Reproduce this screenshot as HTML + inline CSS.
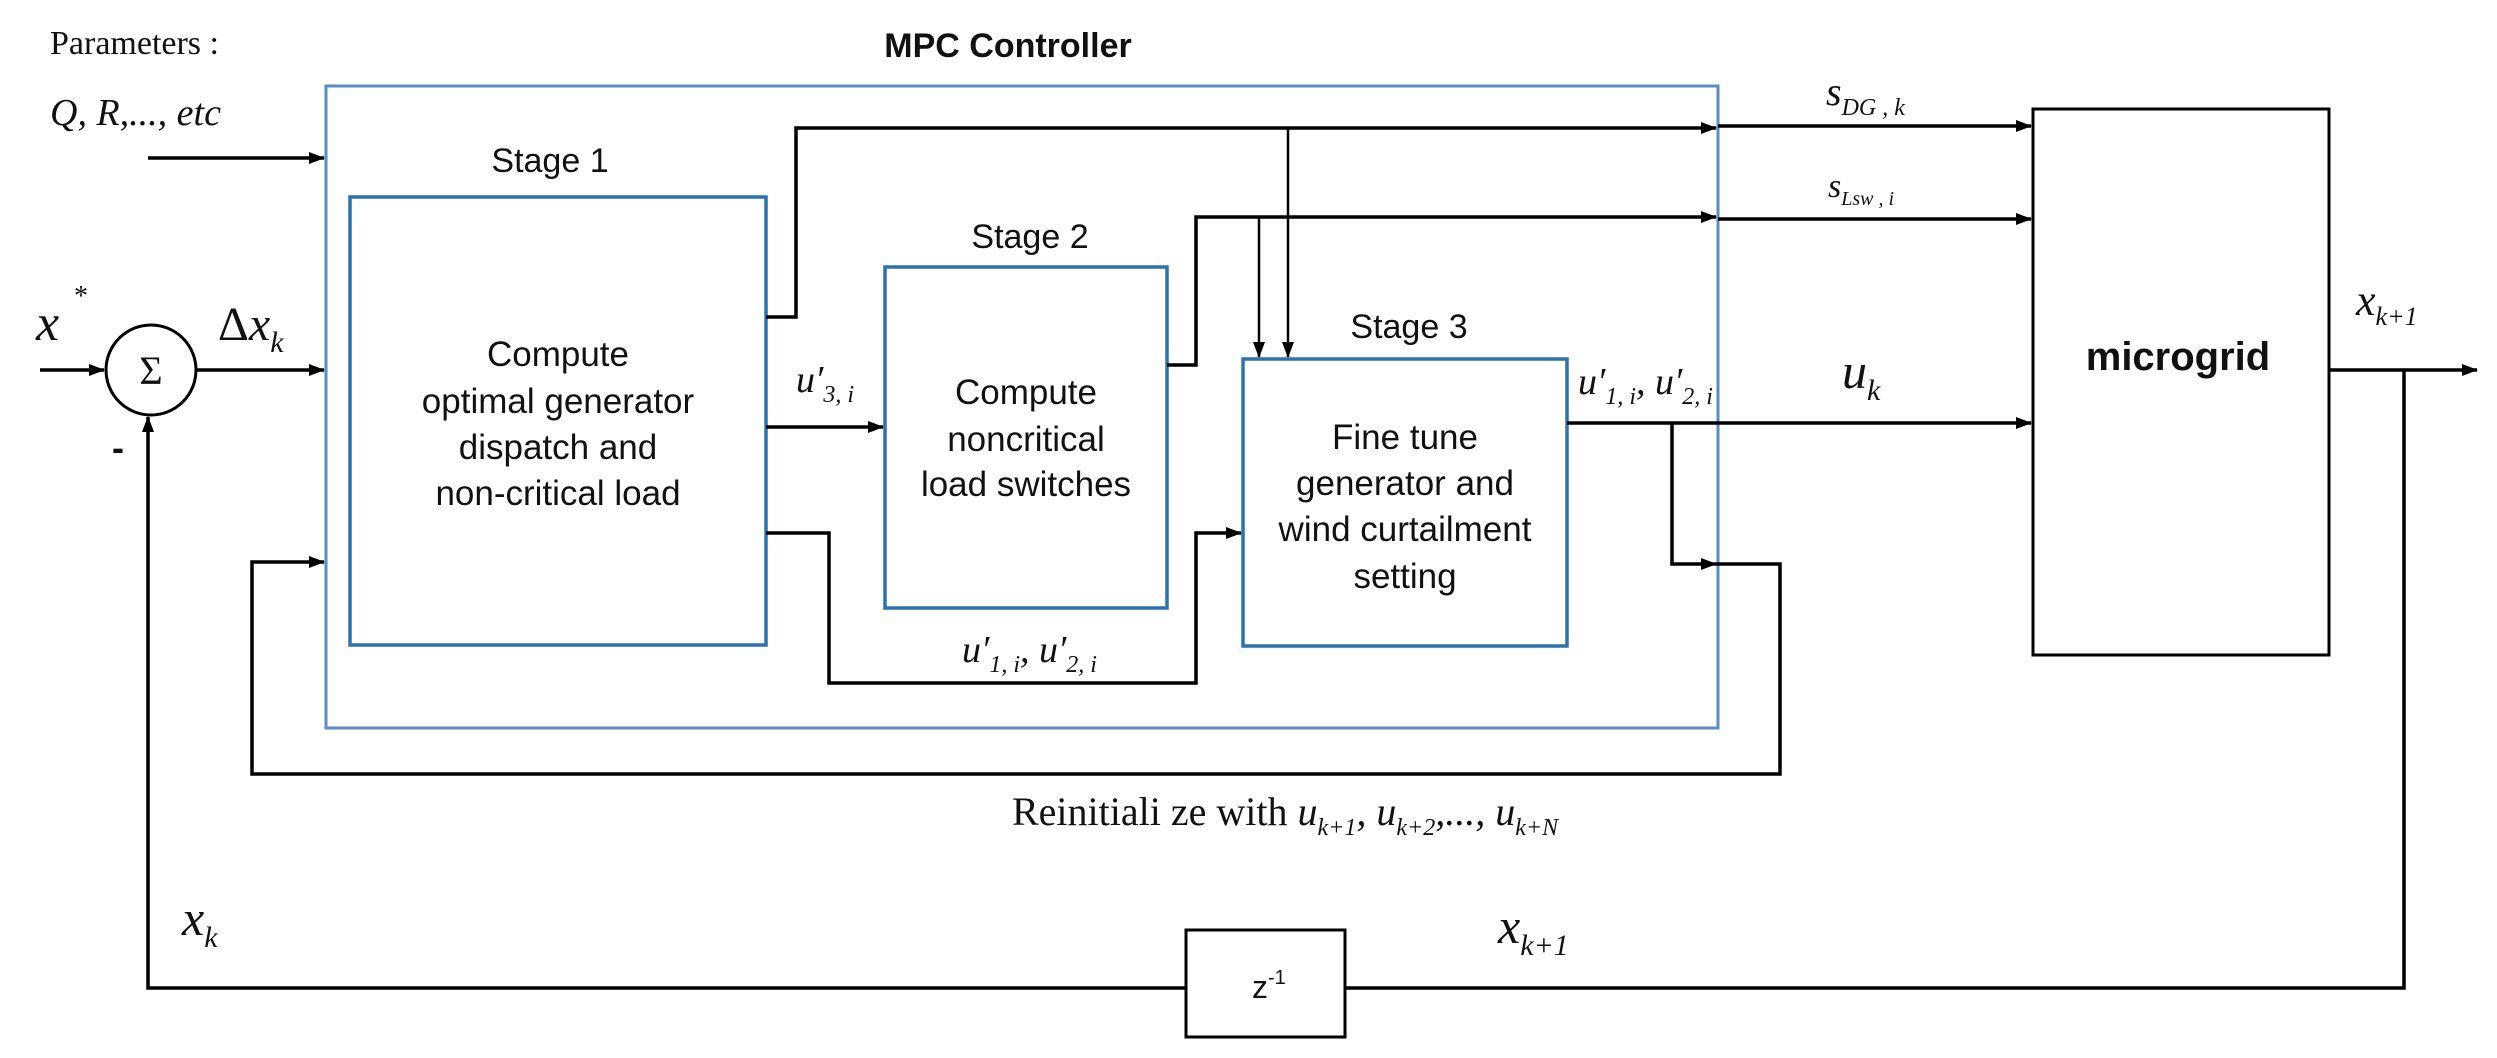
<!DOCTYPE html>
<html><head><meta charset="utf-8"><style>
html,body{margin:0;padding:0;background:#fff;}
svg{display:block;}
.s{font-family:"Liberation Sans",sans-serif;fill:#111;}
.m{font-family:"Liberation Serif",serif;font-style:italic;fill:#111;}
.r{font-family:"Liberation Serif",serif;fill:#111;}
</style></head><body>
<svg width="2497" height="1058" viewBox="0 0 2497 1058" xmlns="http://www.w3.org/2000/svg">
<defs>
<marker id="b" markerWidth="16" markerHeight="16" refX="15" refY="8" orient="auto" markerUnits="userSpaceOnUse" viewBox="0 0 16 16">
<path d="M0,2 L16,8 L0,14 z" fill="#000"/></marker>
</defs>
<rect x="326" y="86" width="1392" height="642" fill="none" stroke="#5a8ec2" stroke-width="3"/>
<rect x="350" y="197" width="416" height="448" fill="none" stroke="#2a72b0" stroke-width="3.5"/>
<rect x="885" y="267" width="282" height="341" fill="none" stroke="#2a72b0" stroke-width="3.5"/>
<rect x="1243" y="359" width="324" height="287" fill="none" stroke="#2a72b0" stroke-width="3.5"/>
<rect x="2033" y="109" width="296" height="546" fill="none" stroke="#000" stroke-width="3"/>
<rect x="1186" y="930" width="159" height="107" fill="none" stroke="#000" stroke-width="3"/>
<circle cx="151" cy="370" r="45" fill="none" stroke="#000" stroke-width="3"/>
<text x="151" y="384" class="r" font-size="40" text-anchor="middle">Σ</text>
<g stroke="#000" stroke-width="3.5" fill="none">
<line x1="148" y1="158" x2="324" y2="158" marker-end="url(#b)"/>
<line x1="40" y1="370" x2="104" y2="370" marker-end="url(#b)"/>
<line x1="196" y1="370" x2="324" y2="370" marker-end="url(#b)"/>
<polyline points="766,317 796,317 796,128 1716,128" marker-end="url(#b)"/>
<line x1="1718" y1="126" x2="2031" y2="126" marker-end="url(#b)"/>
<line x1="1288" y1="128" x2="1288" y2="357" stroke-width="2.5" marker-end="url(#b)"/>
<polyline points="1167,365 1196,365 1196,217 1716,217" marker-end="url(#b)"/>
<line x1="1718" y1="219" x2="2031" y2="219" marker-end="url(#b)"/>
<line x1="1259" y1="217" x2="1259" y2="357" stroke-width="2.5" marker-end="url(#b)"/>
<line x1="766" y1="427" x2="883" y2="427" marker-end="url(#b)"/>
<polyline points="766,533 829,533 829,683 1196,683 1196,533 1241,533" marker-end="url(#b)"/>
<line x1="1567" y1="423" x2="2031" y2="423" marker-end="url(#b)"/>
<polyline points="1672,423 1672,564 1716,564" marker-end="url(#b)"/>
<polyline points="1716,564 1780,564 1780,774 252,774 252,562 324,562" marker-end="url(#b)"/>
<line x1="2329" y1="370" x2="2477" y2="370" marker-end="url(#b)"/>
<polyline points="2404,370 2404,988 1345,988"/>
<polyline points="1186,988 148,988 148,417" marker-end="url(#b)"/>
</g>
<text x="50" y="54" class="r" font-size="34">Parameters :</text>
<text x="1008" y="57" class="s" font-size="34" font-weight="bold" text-anchor="middle">MPC Controller</text>
<text x="50" y="125" class="m" font-size="38">Q, R,..., etc</text>
<text x="550" y="172" class="s" font-size="34" text-anchor="middle">Stage 1</text>
<text x="1030" y="248" class="s" font-size="34" text-anchor="middle">Stage 2</text>
<text x="1409" y="338" class="s" font-size="34" text-anchor="middle">Stage 3</text>
<g class="s" font-size="35" text-anchor="middle">
<text x="558" y="366">Compute</text>
<text x="558" y="413">optimal generator</text>
<text x="558" y="459">dispatch and</text>
<text x="558" y="505">non-critical load</text>
<text x="1026" y="404">Compute</text>
<text x="1026" y="451">noncritical</text>
<text x="1026" y="496">load switches</text>
<text x="1405" y="449">Fine tune</text>
<text x="1405" y="495">generator and</text>
<text x="1405" y="541">wind curtailment</text>
<text x="1405" y="588">setting</text>
</g>
<text x="2178" y="370" class="s" font-size="40" font-weight="bold" text-anchor="middle">microgrid</text>
<text x="36" y="340" class="m" font-size="52">x</text><text x="74" y="305" class="r" font-size="28">*</text>
<text x="112" y="460" class="s" font-size="36" font-weight="bold">-</text>
<text x="218" y="340" class="r" font-size="48">Δ<tspan class="m">x</tspan><tspan class="m" font-size="30" dy="12">k</tspan></text>
<text x="1826" y="105" class="m" font-size="40">s<tspan font-size="24" dy="10">DG , k</tspan></text>
<text x="1828" y="197" class="m" font-size="34">s<tspan font-size="20" dy="8">Lsw , i</tspan></text>
<text x="1842" y="388" class="m" font-size="50">u<tspan font-size="30" dy="12">k</tspan></text>
<text x="2356" y="315" class="m" font-size="44">x<tspan font-size="26" dy="10">k+1</tspan></text>
<text x="796" y="392" class="m" font-size="38">u′<tspan font-size="24" dy="10">3, i</tspan></text>
<text x="962" y="662" class="m" font-size="38">u′<tspan font-size="24" dy="10">1, i</tspan><tspan dy="-10">, u′</tspan><tspan font-size="24" dy="10">2, i</tspan></text>
<text x="1578" y="394" class="m" font-size="38">u′<tspan font-size="24" dy="10">1, i</tspan><tspan dy="-10">, u′</tspan><tspan font-size="24" dy="10">2, i</tspan></text>
<text x="1012" y="825" class="r" font-size="40">Reinitiali ze with <tspan class="m">u<tspan font-size="24" dy="10">k+1</tspan><tspan dy="-10">, u</tspan><tspan font-size="24" dy="10">k+2</tspan><tspan dy="-10">,..., u</tspan><tspan font-size="24" dy="10">k+N</tspan></tspan></text>
<text x="182" y="935" class="m" font-size="50">x<tspan font-size="30" dy="12">k</tspan></text>
<text x="1498" y="943" class="m" font-size="50">x<tspan font-size="30" dy="12">k+1</tspan></text>
<text x="1252" y="998" class="s" font-size="32">z<tspan font-size="20" dy="-14">-1</tspan></text>
</svg>
</body></html>
